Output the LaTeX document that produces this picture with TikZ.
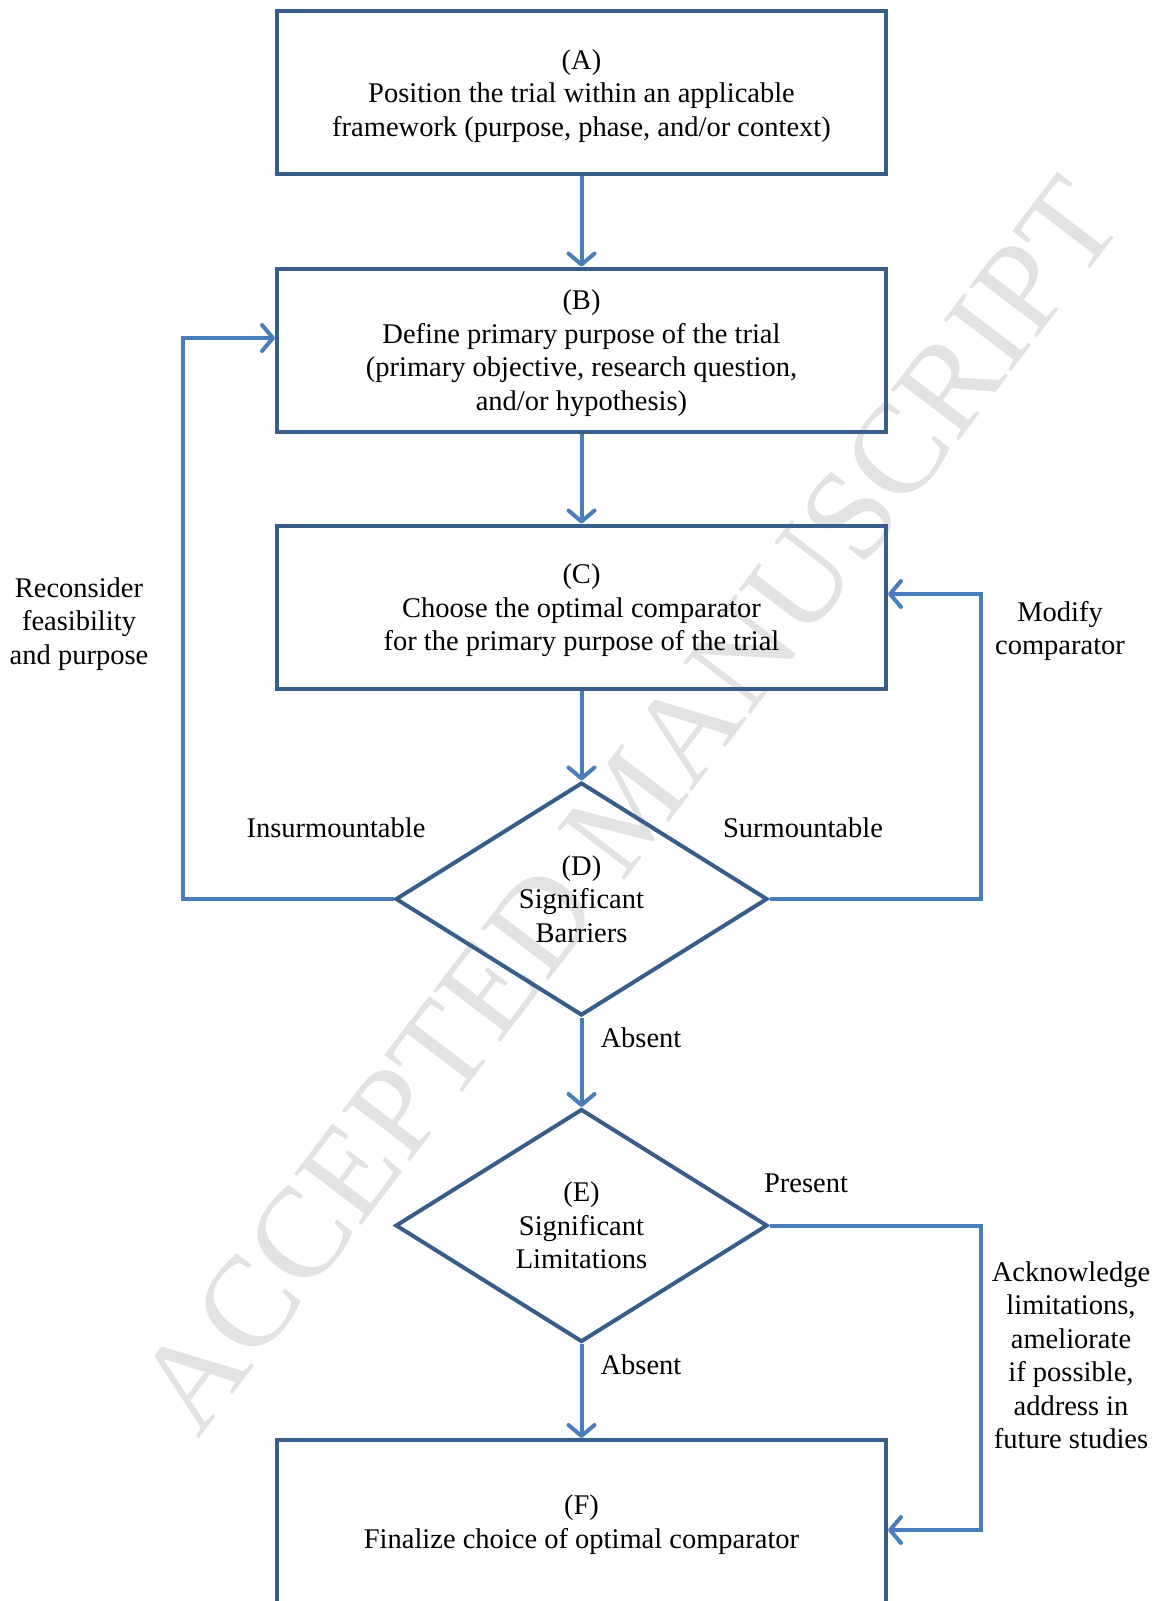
\documentclass[tikz,border=0pt]{standalone}
\usepackage{fontspec}
\setmainfont{Liberation Serif}
\usetikzlibrary{shapes.geometric,arrows.meta}
\definecolor{boxblue}{HTML}{385D8A}
\definecolor{lineblue}{HTML}{4A7EBB}
\definecolor{wmgray}{HTML}{E2E2E2}
\newcommand{\topstrut}{\rule{0pt}{26.5pt}}
\begin{document}
\begin{tikzpicture}[x=1pt,y=-1pt,
  every node/.style={font=\fontsize{28.5}{33.5}\selectfont},
  stepbox/.style={draw=boxblue, line width=4pt, minimum width=609pt, minimum height=163pt, align=center, inner sep=0pt},
  decide/.style={diamond, draw=boxblue, line width=4pt, minimum width=372pt, minimum height=233pt, aspect=1.6, align=center, inner sep=0pt},
  conn/.style={draw=lineblue, line width=4pt, -{Straight Barb[length=11pt,width=26pt,round]}},
  lbl/.style={align=center, inner sep=0pt}
]
\useasboundingbox (0,0) rectangle (1158,1601);
\node[text=wmgray, font=\fontsize{129}{129}\selectfont, rotate=52.7, inner sep=0pt] (wm) at (629,805) {ACCEPTED MANUSCRIPT};

\node[stepbox] (A) at (581.5,92.5) {\topstrut(A)\\Position the trial within an applicable\\framework (purpose, phase, and/or context)};
\node[stepbox] (B) at (581.5,350) {\topstrut(B)\\Define primary purpose of the trial\\(primary objective, research question,\\and/or hypothesis)};
\node[stepbox] (C) at (581.5,607) {\topstrut(C)\\Choose the optimal comparator\\for the primary purpose of the trial};
\node[decide] (D) at (581.5,899) {(D)\\Significant\\Barriers};
\node[decide] (E) at (581.5,1225.5) {(E)\\Significant\\Limitations};
\node[stepbox] (F) at (581.5,1521.5) {\topstrut(F)\\Finalize choice of optimal comparator};

\draw[conn] (A) -- (B);
\draw[conn] (B) -- (C);
\draw[conn] (C) -- (D);
\draw[conn] (D) -- (E);
\draw[conn] (E) -- (F);

\draw[conn] (D.west) -- ++(-211,0) |- ([yshift=12pt]B.west);
\draw[conn] (D.east) -- ++(211,0) |- ([yshift=13pt]C.east);
\draw[conn] (E.east) -- ++(211,0) |- ([yshift=-8.5pt]F.east);

\node[lbl] (l1) at (79,624) {Reconsider\\feasibility\\and purpose};
\node[lbl] (l2) at (336,828) {Insurmountable};
\node[lbl] (l3) at (803,828) {Surmountable};
\node[lbl] (l4) at (1060,631) {Modify\\comparator};
\node[lbl] (l5) at (641,1038) {Absent};
\node[lbl] (l6) at (806,1183) {Present};
\node[lbl] (l7) at (641,1365) {Absent};
\node[lbl] (l8) at (1071,1355) {Acknowledge\\limitations,\\ameliorate\\if possible,\\address in\\future studies};
\end{tikzpicture}
\end{document}
